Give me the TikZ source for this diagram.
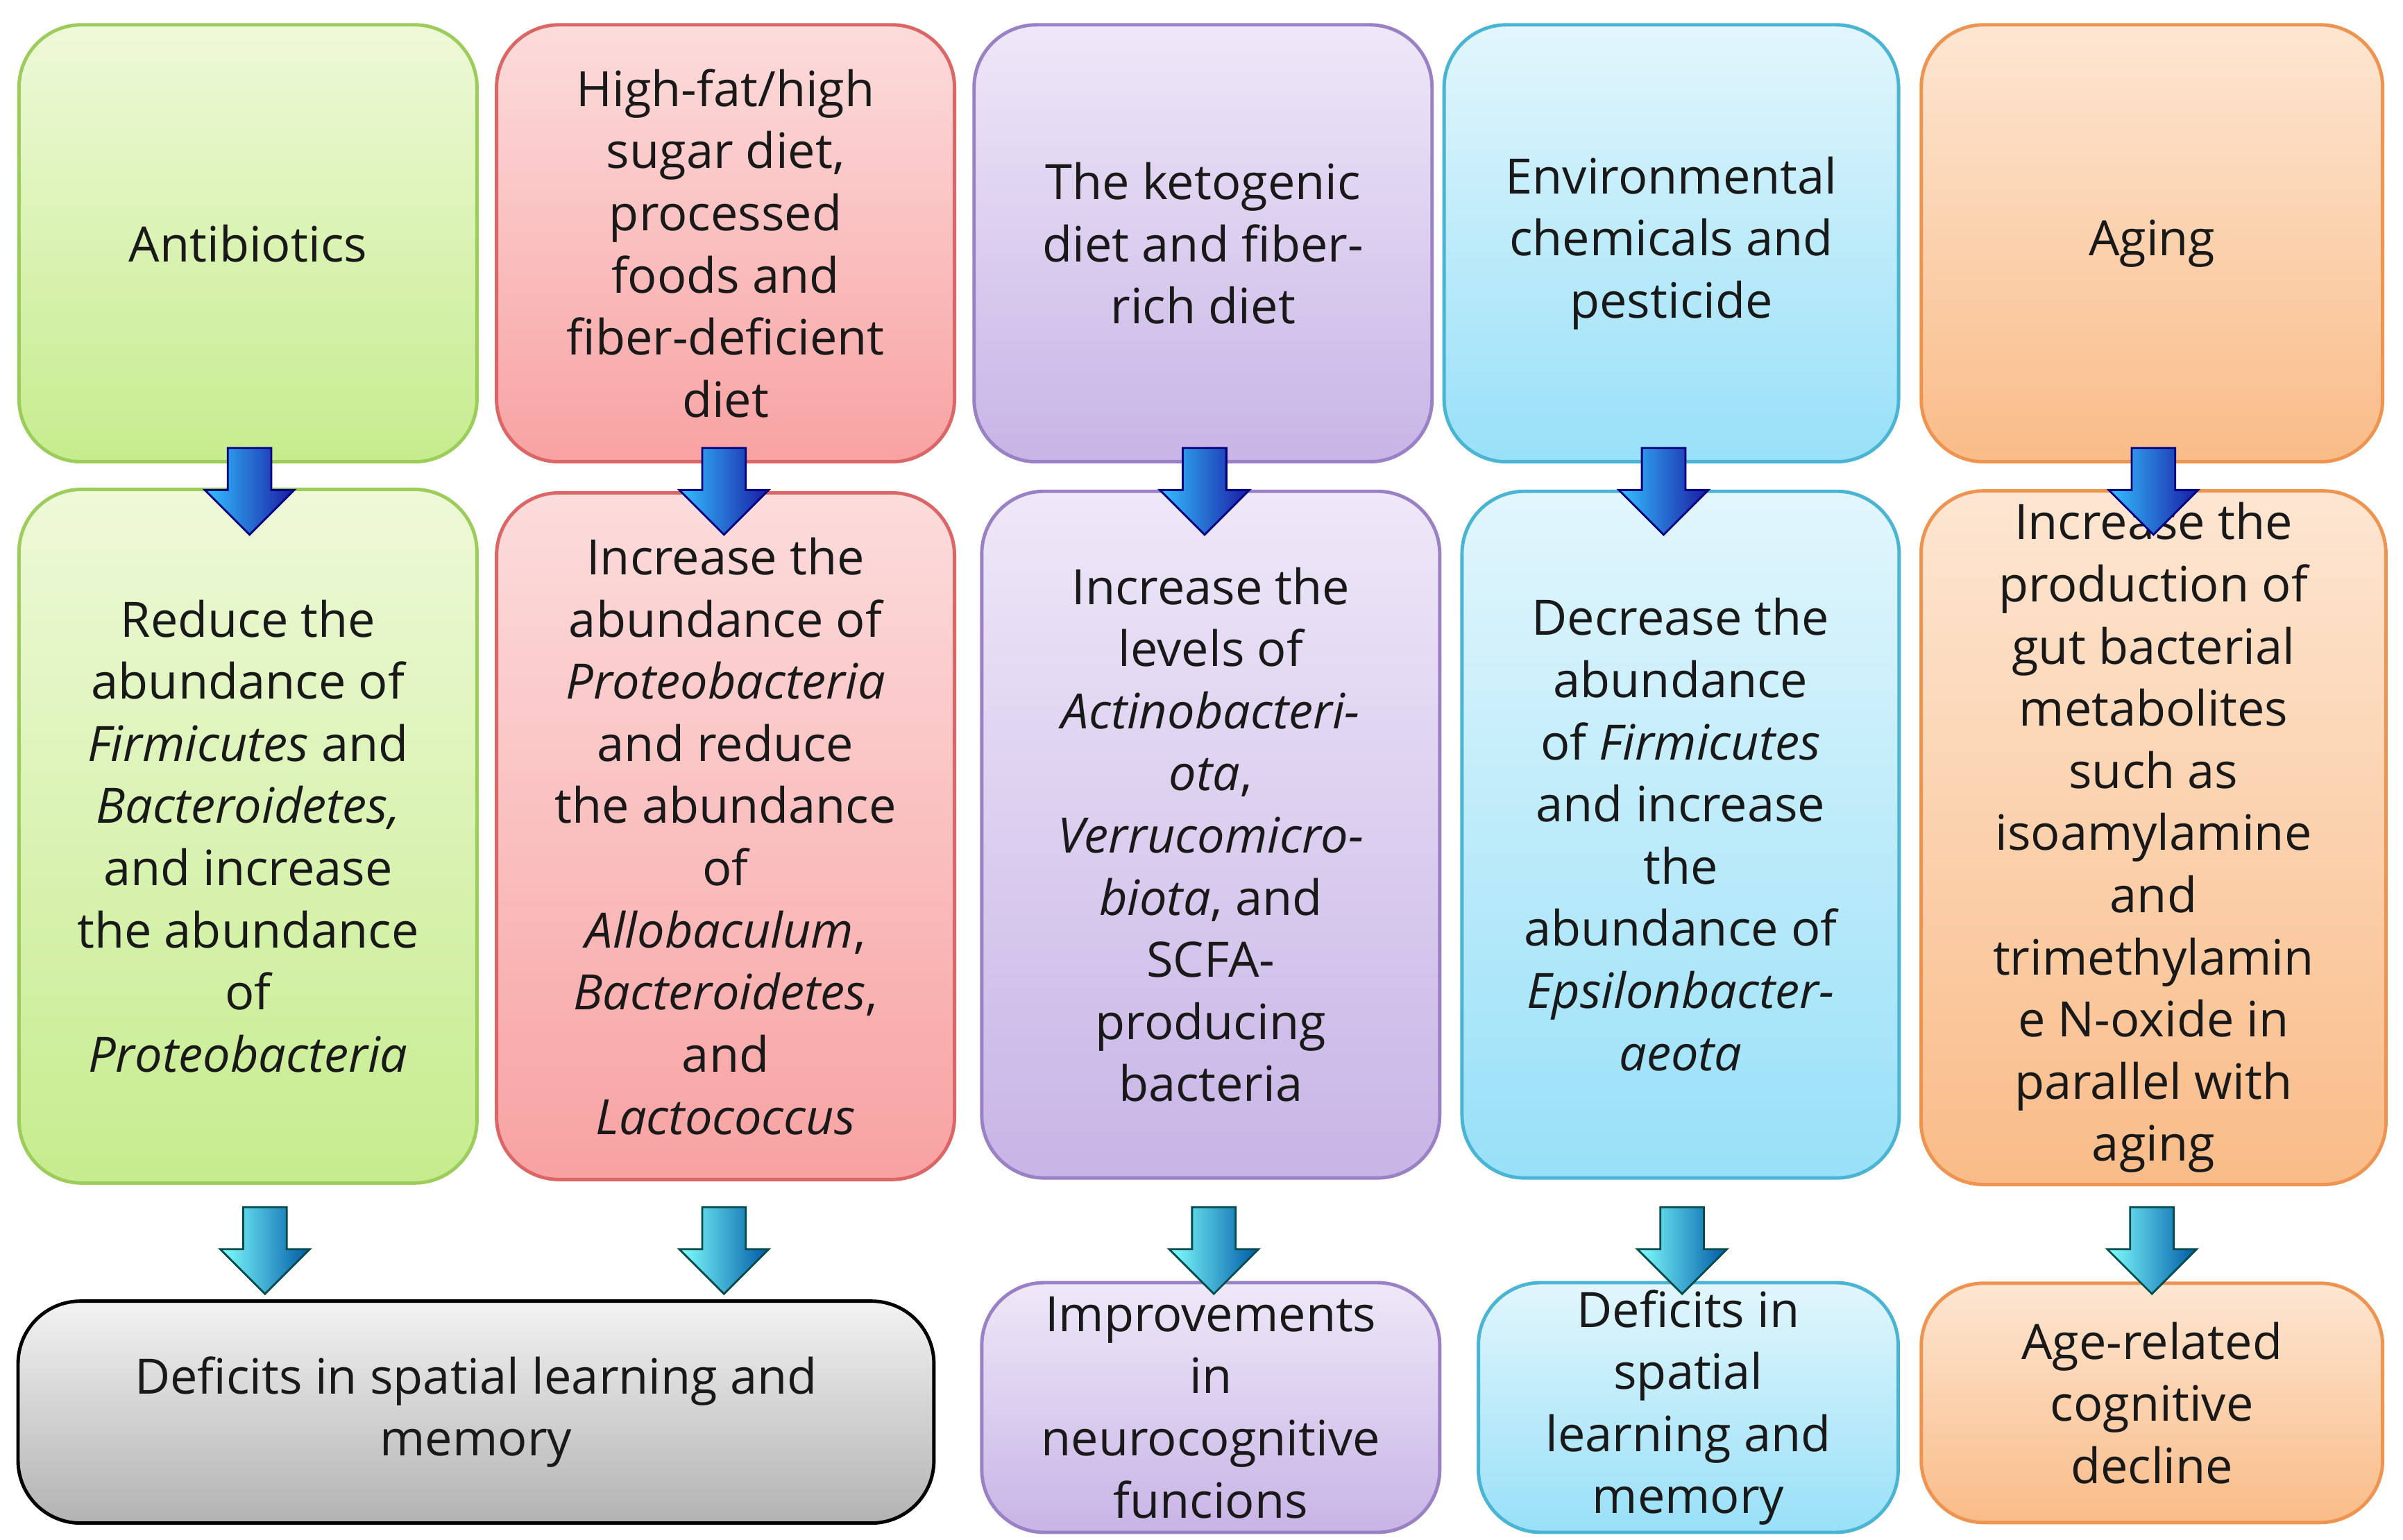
\documentclass[tikz,border=0pt]{standalone}
\usepackage{fontspec}
\setmainfont{Open Sans}
\usetikzlibrary{shapes.arrows}
\definecolor{pT}{HTML}{EEE8F8}\definecolor{pB}{HTML}{C8B4E6}\definecolor{pD}{HTML}{9A80C4}
\definecolor{cT}{HTML}{E2F6FC}\definecolor{cB}{HTML}{98E0F8}\definecolor{cD}{HTML}{4AB4D4}
\definecolor{gT}{HTML}{EEF9D8}\definecolor{gB}{HTML}{C6EC8E}\definecolor{gD}{HTML}{9CCC5A}
\definecolor{rT}{HTML}{FCDCDC}\definecolor{rB}{HTML}{F8A2A2}\definecolor{rD}{HTML}{DC6666}
\definecolor{oT}{HTML}{FDE6D2}\definecolor{oB}{HTML}{F9BC88}\definecolor{oD}{HTML}{EE9450}
\tikzset{
 box/.style={draw, line width=1.4pt, rounded corners=0.9cm, align=center, inner sep=2pt,
   font=\fontsize{20}{25.5}\selectfont, text=black!90},
 gbox/.style={box, draw=gD, top color=gT, bottom color=gB},
 rbox/.style={box, draw=rD, top color=rT, bottom color=rB},
 pbox/.style={box, draw=pD, top color=pT, bottom color=pB},
 cbox/.style={box, draw=cD, top color=cT, bottom color=cB},
 obox/.style={box, draw=oD, top color=oT, bottom color=oB},
 kbox/.style={box, draw=black, top color=white!95!black, bottom color=black!30},
 arr/.style={single arrow, rotate=-90, single arrow head extend=0.33cm,
   minimum height=1.25cm, inner sep=0.3cm, line width=0.8pt},
 barrow/.style={arr, draw=blue!50!black, left color=blue!30!cyan!80, right color=blue!60!black!90},
 tarrow/.style={arr, draw=teal!60!black, left color=cyan!50, right color=teal!70!blue},
}
\begin{document}
\begin{tikzpicture}[x=0.0222cm,y=-0.0222cm]
\useasboundingbox (0,0) rectangle (1560,1000);
% row 1
\node[gbox, minimum width=6.6cm, minimum height=6.3cm] (a1) at (161,158) {Antibiotics};
\node[rbox, minimum width=6.6cm, minimum height=6.3cm] (b1) at (471,158) {High-fat/high\\sugar diet,\\processed\\foods and\\fiber-deficient\\diet};
\node[pbox, minimum width=6.6cm, minimum height=6.3cm] (c1) at (781,158) {The ketogenic\\diet and fiber-\\rich diet};
\node[cbox, minimum width=6.55cm, minimum height=6.3cm] (d1) at (1085,158) {Environmental\\chemicals and\\pesticide};
\node[obox, minimum width=6.65cm, minimum height=6.3cm] (e1) at (1397,158) {Aging};
% row 2
\node[gbox, minimum width=6.6cm, minimum height=10cm] (a2) at (161,543) {Reduce the\\abundance of\\\textit{Firmicutes} and\\\textit{Bacteroidetes,}\\and increase\\the abundance\\of\\\textit{Proteobacteria}};
\node[rbox, minimum width=6.6cm, minimum height=9.9cm] (b2) at (471,543) {Increase the\\abundance of\\\textit{Proteobacteria}\\and reduce\\the abundance\\of\\\textit{Allobaculum},\\\textit{Bacteroidetes},\\and\\\textit{Lactococcus}};
\node[pbox, minimum width=6.6cm, minimum height=9.9cm] (c2) at (786,542) {Increase the\\levels of\\\textit{Actinobacteri-}\\\textit{ota},\\\textit{Verrucomicro-}\\\textit{biota}, and\\SCFA-\\producing\\bacteria};
\node[cbox, minimum width=6.3cm, minimum height=9.9cm] (d2) at (1091,542) {Decrease the\\abundance\\of \textit{Firmicutes}\\and increase\\the\\abundance of\\\textit{Epsilonbacter-}\\\textit{aeota}};
\node[obox, minimum width=6.7cm, minimum height=10cm] (e2) at (1398,544) {Increase the\\production of\\gut bacterial\\metabolites\\such as\\isoamylamine\\and\\trimethylamin\\e N-oxide in\\parallel with\\aging};
% row 3
\node[kbox, minimum width=13.2cm, minimum height=3.2cm] (a3) at (309,917) {Deficits in spatial learning and\\memory};
\node[pbox, minimum width=6.6cm, minimum height=3.6cm] (c3) at (786,914) {Improvements\\in\\neurocognitive\\funcions};
\node[cbox, minimum width=6.05cm, minimum height=3.6cm] (d3) at (1096,914) {Deficits in\\spatial\\learning and\\memory};
\node[obox, minimum width=6.65cm, minimum height=3.45cm] (e3) at (1397,911) {Age-related\\cognitive\\decline};
% arrows
\foreach \n/\x in {p1/162,p2/470,p3/782,p4/1080,p5/1398}
  \node[barrow] (\n) at (\x,312) {};
\foreach \n/\x in {q1/172,q2/470,q3/788,q4/1092,q5/1397}
  \node[tarrow] (\n) at (\x,805) {};
\end{tikzpicture}
\end{document}
